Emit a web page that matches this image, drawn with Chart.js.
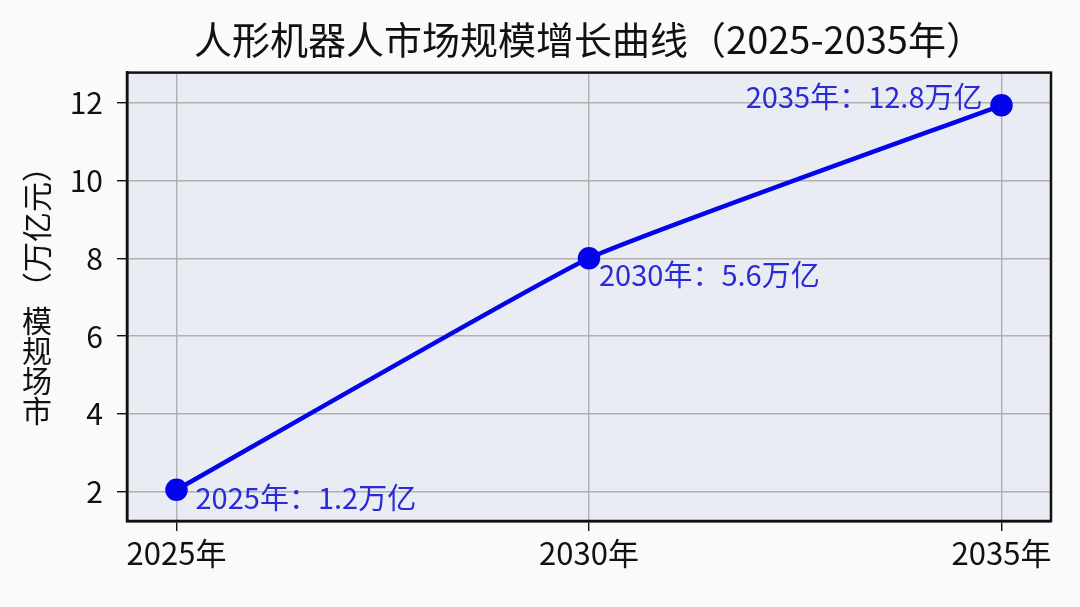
<!DOCTYPE html>
<html lang="zh">
<head>
  <meta charset="UTF-8" />
  <title>人形机器人市场规模增长曲线</title>
  <script src="https://cdn.jsdelivr.net/npm/chart.js"></script>
  <style>
    html, body { margin: 0; padding: 0; background: #fafafa; }
    .wrap { width: 1080px; height: 607px; }
  </style>
</head>
<body>
  <div class="wrap"><canvas id="growthChart"></canvas></div>
  <script>
    const years = [2025, 2030, 2035];
    const marketSize = [2.05, 8.0, 11.93];
    const pointLabels = ['2025年：1.2万亿', '2030年：5.6万亿', '2035年：12.8万亿'];
    const yTicks = [2, 4, 6, 8, 10, 12];
    const FONT = '"Noto Sans CJK SC", "Noto Sans", sans-serif';

    // plot background + full black frame
    const frame = {
      id: 'frame',
      beforeDraw(chart) {
        const { ctx, chartArea: a } = chart;
        ctx.save();
        ctx.fillStyle = '#e9ecf2';
        ctx.fillRect(a.left, a.top, a.right - a.left, a.bottom - a.top);
        ctx.restore();
      },
      afterDatasetsDraw(chart) {
        const { ctx, chartArea: a } = chart;
        ctx.save();
        ctx.strokeStyle = '#111';
        ctx.lineWidth = 2.5;
        ctx.strokeRect(a.left, a.top, a.right - a.left, a.bottom - a.top);
        ctx.restore();
      }
    };

    // value labels next to the points
    const offsets = [
      { dx: 19, dy: 8, align: 'left' },
      { dx: 10, dy: 17, align: 'left' },
      { dx: -19, dy: -8, align: 'right' }
    ];
    const valueLabels = {
      id: 'valueLabels',
      afterDatasetsDraw(chart) {
        const { ctx, scales } = chart;
        ctx.save();
        ctx.font = '29px ' + FONT;
        ctx.fillStyle = '#2a2ad8';
        ctx.textBaseline = 'middle';
        years.forEach((yr, i) => {
          const x = scales.x.getPixelForValue(yr);
          const y = scales.y.getPixelForValue(marketSize[i]);
          ctx.textAlign = offsets[i].align;
          ctx.fillText(pointLabels[i], x + offsets[i].dx, y + offsets[i].dy);
        });
        ctx.restore();
      }
    };

    // y axis title: 市场规模 upright, stacked bottom to top, then (万亿元) rotated
    const yTitle = {
      id: 'yTitle',
      afterDraw(chart) {
        const { ctx } = chart;
        const cx = 37;
        ctx.save();
        ctx.font = '30px ' + FONT;
        ctx.fillStyle = '#111';
        ctx.textAlign = 'center';
        ctx.textBaseline = 'middle';
        const chars = ['市', '场', '规', '模'];
        chars.forEach((c, i) => ctx.fillText(c, cx, 411 - i * 30));
        ctx.translate(cx, 227);
        ctx.rotate(-Math.PI / 2);
        ctx.fillText('（万亿元）', 0, 0);
        ctx.restore();
      }
    };

    new Chart(document.getElementById('growthChart'), {
      type: 'line',
      data: {
        datasets: [{
          label: '市场规模',
          data: years.map((yr, i) => ({ x: yr, y: marketSize[i] })),
          borderColor: '#0404ea',
          backgroundColor: '#0404ea',
          borderWidth: 4.5,
          pointRadius: 9,
          pointHoverRadius: 9,
          tension: 0.12,
          clip: false
        }]
      },
      options: {
        responsive: true,
        maintainAspectRatio: false,
        animation: false,
        layout: { padding: { left: 0, right: 29, top: 0, bottom: 0 } },
        plugins: {
          legend: { display: false },
          tooltip: { enabled: false },
          title: {
            display: true,
            fullSize: false,
            text: '人形机器人市场规模增长曲线（2025-2035年）',
            color: '#111',
            font: { family: FONT, size: 38, weight: 'normal' },
            padding: { top: 17, bottom: 10 }
          }
        },
        scales: {
          x: {
            type: 'linear',
            min: 2024.4,
            max: 2035.6,
            afterBuildTicks: s => { s.ticks = years.map(v => ({ value: v })); },
            afterFit: s => { s.height = 86; },
            grid: { color: '#b0b0b4', lineWidth: 1.4, tickColor: '#111', tickLength: 10 },
            border: { color: '#111', width: 2.5 },
            ticks: {
              color: '#111',
              padding: 4,
              maxRotation: 0,
              font: { family: FONT, size: 31 },
              callback: v => v + '年'
            }
          },
          y: {
            min: 1.25,
            max: 12.77,
            afterBuildTicks: s => { s.ticks = yTicks.map(v => ({ value: v })); },
            afterFit: s => { s.width = 127; },
            grid: { color: '#b0b0b4', lineWidth: 1.4, tickColor: '#111', tickLength: 10 },
            border: { color: '#111', width: 2.5 },
            ticks: {
              color: '#111',
              padding: 14,
              font: { family: FONT, size: 30 }
            }
          }
        }
      },
      plugins: [frame, valueLabels, yTitle]
    });
  </script>
</body>
</html>
